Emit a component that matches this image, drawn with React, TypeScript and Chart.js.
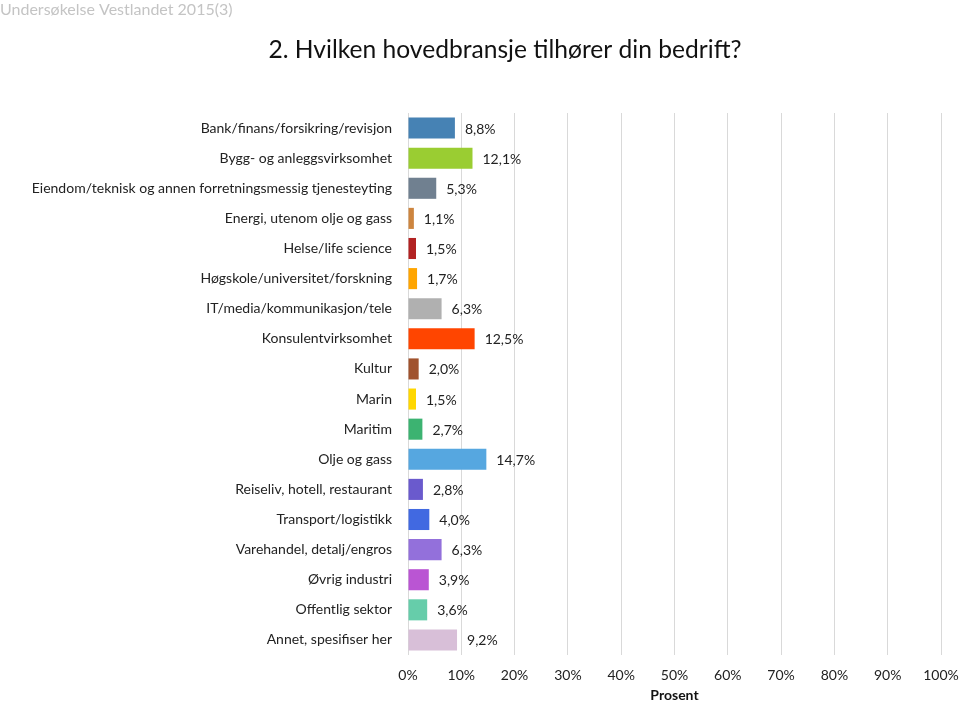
import React, { useEffect, useRef } from "react";
import { Chart, registerables } from "chart.js";

Chart.register(...registerables);

const categories = [
  "Bank/finans/forsikring/revisjon",
  "Bygg- og anleggsvirksomhet",
  "Eiendom/teknisk og annen forretningsmessig tjenesteyting",
  "Energi, utenom olje og gass",
  "Helse/life science",
  "Høgskole/universitet/forskning",
  "IT/media/kommunikasjon/tele",
  "Konsulentvirksomhet",
  "Kultur",
  "Marin",
  "Maritim",
  "Olje og gass",
  "Reiseliv, hotell, restaurant",
  "Transport/logistikk",
  "Varehandel, detalj/engros",
  "Øvrig industri",
  "Offentlig sektor",
  "Annet, spesifiser her",
];

const values = [8.8, 12.1, 5.3, 1.1, 1.5, 1.7, 6.3, 12.5, 2.0, 1.5, 2.7, 14.7, 2.8, 4.0, 6.3, 3.9, 3.6, 9.2];

const barColors = [
  "#4682B4", "#9ACD32", "#708090", "#CD853F", "#B22222", "#FFA500",
  "#B0B0B0", "#FF4500", "#A0522D", "#FFD700", "#3CB371", "#56A7E0",
  "#6A5ACD", "#4169E1", "#9370DB", "#BA55D3", "#66CDAA", "#D8BFD8",
];

const xTicks = [0, 10, 20, 30, 40, 50, 60, 70, 80, 90, 100];

const titleText = "2. Hvilken hovedbransje tilhører din bedrift?";
const cornerText = "Undersøkelse Vestlandet 2015(3)";
const axisTitle = "Prosent";

const FONT = "Lato, 'Open Sans', sans-serif";

export default function App() {
  const ref = useRef<HTMLCanvasElement | null>(null);

  useEffect(() => {
    if (!ref.current) return;
    const textPlugin = {
      id: "texts",
      afterDraw(chart: any) {
        const ctx = chart.ctx;
        ctx.save();
        ctx.textBaseline = "middle";
        ctx.fillStyle = "#c4c4c4";
        ctx.font = `16px ${FONT}`;
        ctx.textAlign = "left";
        ctx.fillText(cornerText, 0, 10);
        ctx.fillStyle = "#111";
        ctx.font = `24.6px ${FONT}`;
        ctx.textAlign = "center";
        ctx.fillText(titleText, 505, 50);
        // data labels
        const meta = chart.getDatasetMeta(0);
        ctx.font = `14px ${FONT}`;
        ctx.fillStyle = "#222";
        ctx.textAlign = "left";
        meta.data.forEach((bar: any, i: number) => {
          const v = values[i];
          ctx.fillText(v.toFixed(1).replace(".", ",") + "%", bar.x + 10, bar.y + 1);
        });
        ctx.restore();
      },
    };

    const chart = new Chart(ref.current, {
      type: "bar",
      data: {
        labels: categories,
        datasets: [
          {
            data: values,
            backgroundColor: barColors,
            borderWidth: 0,
            barPercentage: 0.7,
            categoryPercentage: 1,
          },
        ],
      },
      options: {
        indexAxis: "y",
        animation: false,
        responsive: false,
        maintainAspectRatio: false,
        layout: { padding: { top: 113, right: 19, left: 0, bottom: 0 } },
        plugins: {
          legend: { display: false },
          tooltip: { enabled: false },
        },
        scales: {
          x: {
            min: 0,
            max: 100,
            afterFit: (s: any) => {
              s.height = 47;
              s.paddingLeft = 0;
              s.paddingRight = 0;
            },
            afterBuildTicks: (s: any) => {
              s.ticks = xTicks.map((v) => ({ value: v }));
            },
            grid: { color: "#d9d9d9", drawTicks: false, lineWidth: 1 },
            border: { display: false },
            ticks: {
              padding: 12,
              color: "#222",
              font: { family: FONT, size: 14 },
              maxRotation: 0,
              callback: (v: any) => v + "%",
            },
            title: {
              display: true,
              text: axisTitle,
              color: "#111",
              font: { family: FONT, size: 14, weight: "bold", lineHeight: 1 },
              padding: { top: 0, bottom: 0 },
            },
          },
          y: {
            afterFit: (s: any) => {
              s.width = 408;
              s.paddingTop = 0;
              s.paddingBottom = 0;
            },
            grid: { display: false, drawTicks: false },
            border: { display: false },
            ticks: {
              padding: 16,
              color: "#222",
              font: { family: FONT, size: 14 },
              autoSkip: false,
            },
          },
        },
      },
      plugins: [textPlugin],
    });
    return () => chart.destroy();
  }, []);

  return (
    <div style={{ position: "fixed", left: 0, top: 0, width: 960, height: 702, background: "#fff" }}>
      <canvas ref={ref} width={960} height={702} style={{ width: 960, height: 702 }} />
    </div>
  );
}
